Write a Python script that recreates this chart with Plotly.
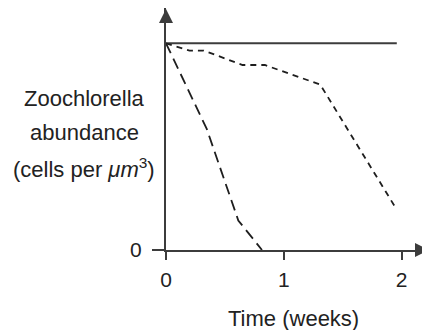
import plotly.graph_objects as go

# ---- data ----
time_solid = [0, 1.96]
abund_solid = [1.0, 1.0]

time_short = [0, 0.20, 0.32, 0.65, 0.84, 1.31, 1.96]
abund_short = [1.0, 0.965, 0.965, 0.895, 0.895, 0.80, 0.195]

time_long = [0, 0.346, 0.614, 0.815]
abund_long = [1.0, 0.586, 0.143, 0.0]

x_ticks = [0, 1, 2]
x_ticklabels = ["0", "1", "2"]
y_ticks = [0]
y_ticklabels = ["0"]

AX = "#3c3c3c"
LN = "#1e1e1e"
FONT = "Liberation Sans, Arial, Helvetica, sans-serif"
FS = 22
TFS = 21

# plot area in screen pixels (page has an 8px body margin)
PX0, PX1 = 166, 430
PY0, PY1 = 250, 8


def px(x):
    return (x - PX0) / (PX1 - PX0)


def py(y):
    return (PY0 - y) / (PY0 - PY1)


fig = go.Figure()
fig.add_trace(go.Scatter(x=time_solid, y=abund_solid, mode="lines",
                         line=dict(color=AX, width=2), showlegend=False, hoverinfo="skip"))
fig.add_trace(go.Scatter(x=time_short, y=abund_short, mode="lines",
                         line=dict(color=LN, width=1.8, dash="6px,5px"), showlegend=False, hoverinfo="skip"))
fig.add_trace(go.Scatter(x=time_long, y=abund_long, mode="lines",
                         line=dict(color=LN, width=1.8, dash="11px,6px"), showlegend=False, hoverinfo="skip"))

fig.update_layout(
    width=422, height=322,
    margin=dict(l=158, r=0, t=0, b=80),
    paper_bgcolor="white", plot_bgcolor="white",
    font=dict(family=FONT, size=FS, color="#222"),
    xaxis=dict(range=[0, 2.242], showgrid=False, zeroline=False,
               showline=True, linecolor=AX, linewidth=2,
               tickmode="array", tickvals=x_ticks, ticktext=x_ticklabels,
               ticks="outside", ticklen=8, tickwidth=2, tickcolor=AX,
               ticklabelstandoff=2, tickfont=dict(size=TFS)),
    yaxis=dict(range=[0, 1.1708], showgrid=False, zeroline=False,
               showline=True, linecolor=AX, linewidth=2,
               tickmode="array", tickvals=y_ticks, ticktext=y_ticklabels,
               ticks="outside", ticklen=12, tickwidth=2, tickcolor=AX,
               ticklabelstandoff=6, tickfont=dict(size=TFS)),
)

# arrowheads on axes
fig.add_annotation(x=1, y=0, xref="paper", yref="paper", ax=-16, ay=0,
                   text="", showarrow=True, arrowhead=2, arrowsize=1.4,
                   arrowwidth=2, arrowcolor=AX)
fig.add_annotation(x=0, y=1, xref="paper", yref="paper", ax=0, ay=16,
                   text="", showarrow=True, arrowhead=2, arrowsize=1.4,
                   arrowwidth=2, arrowcolor=AX)

# axis titles
fig.add_annotation(x=px(293), y=py(318), xref="paper", yref="paper",
                   text="Time (weeks)", showarrow=False, xanchor="center", yanchor="middle",
                   font=dict(size=FS))
ylines = ["Zoochlorella", "abundance", "(cells per <i>μm</i><sup>3</sup>)"]
ypix = [98, 133, 168]
for t, yp in zip(ylines, ypix):
    fig.add_annotation(x=px(84), y=py(yp), xref="paper", yref="paper",
                       text=t, showarrow=False, xanchor="center", yanchor="middle",
                       font=dict(size=FS))

fig.write_html("out.html")
